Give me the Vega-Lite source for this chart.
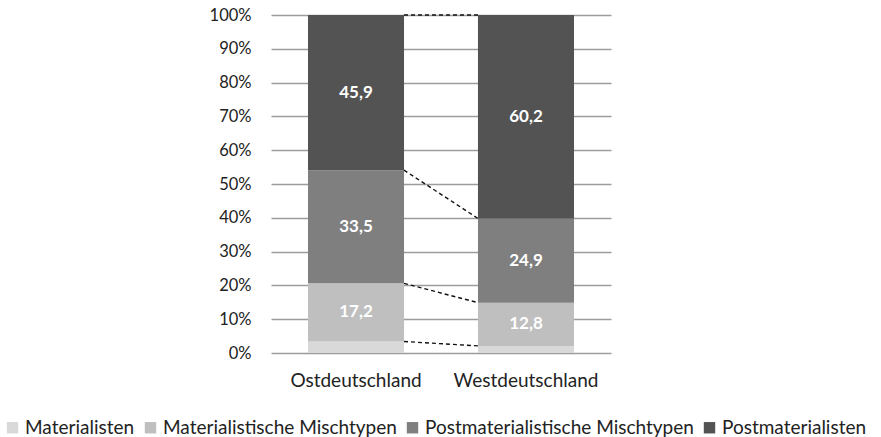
{
  "$schema": "https://vega.github.io/schema/vega-lite/v6.json",
  "width": 340,
  "height": 338,
  "autosize": "none",
  "padding": {"left": 271, "top": 15, "right": 270, "bottom": 84},
  "config": {
    "view": {"stroke": null},
    "font": "Lato",
    "axisY": {"tickCount": 11},
    "locale": {"number": {"decimal": ",", "thousands": ".", "grouping": [3], "currency": ["", " €"]}}
  },
  "datasets": {
    "main": [
      {"region": "Ostdeutschland", "gruppe": "Materialisten", "ord": 1, "wert": 3.4},
      {"region": "Ostdeutschland", "gruppe": "Materialistische Mischtypen", "ord": 2, "wert": 17.2},
      {"region": "Ostdeutschland", "gruppe": "Postmaterialistische Mischtypen", "ord": 3, "wert": 33.5},
      {"region": "Ostdeutschland", "gruppe": "Postmaterialisten", "ord": 4, "wert": 45.9},
      {"region": "Westdeutschland", "gruppe": "Materialisten", "ord": 1, "wert": 2.1},
      {"region": "Westdeutschland", "gruppe": "Materialistische Mischtypen", "ord": 2, "wert": 12.8},
      {"region": "Westdeutschland", "gruppe": "Postmaterialistische Mischtypen", "ord": 3, "wert": 24.9},
      {"region": "Westdeutschland", "gruppe": "Postmaterialisten", "ord": 4, "wert": 60.2}
    ],
    "links": [
      {"von": "Ostdeutschland", "nach": "Westdeutschland", "y1": 3.4, "y2": 2.1},
      {"von": "Ostdeutschland", "nach": "Westdeutschland", "y1": 20.6, "y2": 14.9},
      {"von": "Ostdeutschland", "nach": "Westdeutschland", "y1": 54.1, "y2": 39.8},
      {"von": "Ostdeutschland", "nach": "Westdeutschland", "y1": 100, "y2": 100}
    ]
  },
  "layer": [
    {
      "data": {"name": "main"},
      "transform": [
        {"stack": "wert", "groupby": ["region"], "sort": [{"field": "ord"}], "as": ["s0", "s1"]}
      ],
      "mark": {"type": "bar"},
      "encoding": {
        "x": {
          "field": "region", "type": "nominal", "sort": null,
          "scale": {"paddingInner": 0.435, "paddingOuter": 0.2176},
          "axis": {"title": null, "labelAngle": 0, "labelFontSize": 19, "labelColor": "#222", "ticks": false, "domain": false, "labelPadding": 18}
        },
        "y": {
          "field": "s0", "type": "quantitative",
          "scale": {"domain": [0, 100], "nice": false},
          "axis": {
            "title": null, "values": [0, 10, 20, 30, 40, 50, 60, 70, 80, 90, 100], "tickCount": 11,
            "format": "d", "labelExpr": "datum.label + '%'", "labelFontSize": 16.5, "labelColor": "#222",
            "labelOverlap": false, "labelFlush": false, "labelBound": false,
            "ticks": false, "domain": false, "labelPadding": 20,
            "gridColor": "#9c9c9c", "gridWidth": 1.5
          }
        },
        "y2": {"field": "s1"},
        "color": {
          "field": "gruppe", "type": "nominal",
          "scale": {
            "domain": ["Materialisten", "Materialistische Mischtypen", "Postmaterialistische Mischtypen", "Postmaterialisten"],
            "range": ["#d9d9d9", "#bfbfbf", "#7f7f7f", "#535353"]
          },
          "legend": {
            "title": null, "orient": "none", "legendX": -268, "legendY": 403, "direction": "horizontal",
            "symbolType": "square", "symbolSize": 130, "symbolStrokeWidth": 0,
            "labelFontSize": 19, "labelColor": "#222", "labelLimit": 0, "columnPadding": 6, "labelOffset": 3
          }
        }
      }
    },
    {
      "data": {"name": "main"},
      "transform": [
        {"stack": "wert", "groupby": ["region"], "sort": [{"field": "ord"}], "as": ["s0", "s1"]},
        {"filter": "datum.gruppe != 'Materialisten'"},
        {"calculate": "(datum.s0 + datum.s1) / 2", "as": "mitte"}
      ],
      "mark": {"type": "text", "color": "white", "fontWeight": "bold", "fontSize": 17},
      "encoding": {
        "x": {"field": "region", "type": "nominal", "sort": null},
        "y": {"field": "mitte", "type": "quantitative"},
        "text": {"field": "wert", "type": "quantitative", "format": ".1f"}
      }
    },
    {
      "data": {"name": "links"},
      "mark": {"type": "rule", "color": "#111", "strokeDash": [4, 3], "strokeWidth": 1.4, "xOffset": 48, "x2Offset": -48},
      "encoding": {
        "x": {"field": "von", "type": "nominal", "sort": null},
        "x2": {"field": "nach"},
        "y": {"field": "y1", "type": "quantitative"},
        "y2": {"field": "y2"}
      }
    }
  ]
}
